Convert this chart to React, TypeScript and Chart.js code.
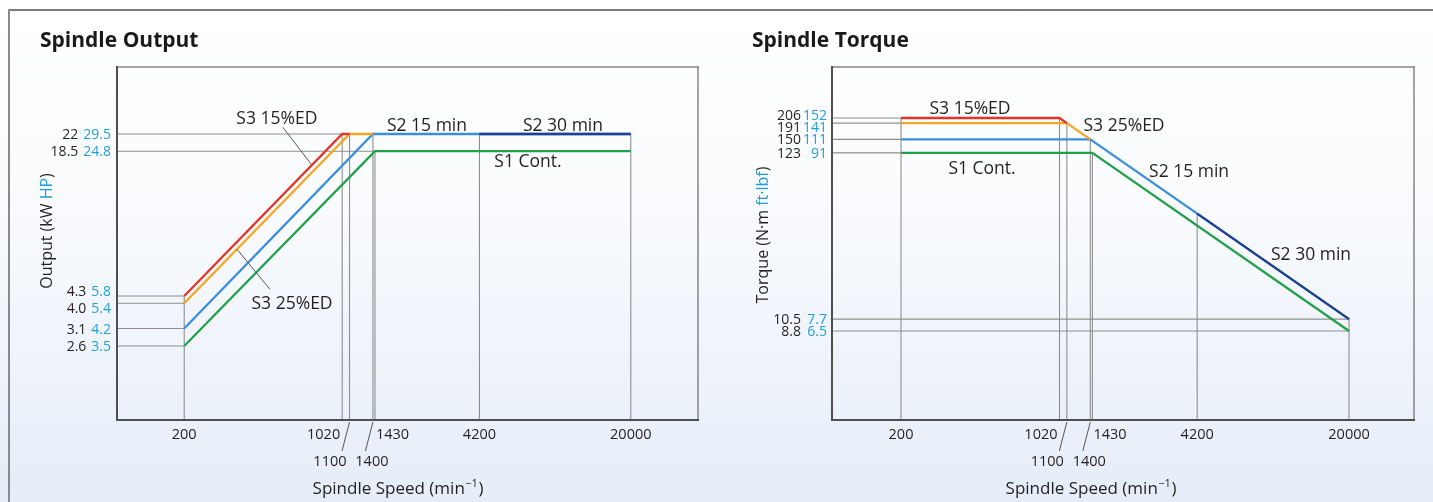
import React, { useEffect, useRef } from "react";
import { Chart, registerables } from "chart.js";

Chart.register(...registerables);

// ---------------- data ----------------
type Pt = [number, number];

// spindle speed tick values (min^-1)
const speedTicksRow1 = [200, 1020, 1430, 4200, 20000];
const speedTicksRow2 = [1100, 1400];

// Spindle Output (kW)
const outputS3_15: Pt[] = [[200, 4.3], [1020, 22], [1100, 22]];
const outputS3_25: Pt[] = [[200, 4.0], [1100, 22], [1400, 22]];
const outputS2_15: Pt[] = [[200, 3.1], [1400, 22], [20000, 22]];
const outputS2_30: Pt[] = [[4200, 22], [20000, 22]];
const outputS1: Pt[] = [[200, 2.6], [1430, 18.5], [20000, 18.5]];

const outputKwTicks = [22, 18.5, 4.3, 4.0, 3.1, 2.6];
const outputKwLabels = ["22", "18.5", "4.3", "4.0", "3.1", "2.6"];
const outputHpLabels = ["29.5", "24.8", "5.8", "5.4", "4.2", "3.5"];

// Spindle Torque (N·m)
const torqueS3_15: Pt[] = [[200, 206], [1020, 206], [1100, 191]];
const torqueS3_25: Pt[] = [[200, 191], [1100, 191], [1400, 150]];
const torqueS2_15: Pt[] = [[200, 150], [1400, 150], [20000, 10.5]];
const torqueS2_30: Pt[] = [[4200, 50], [20000, 10.5]];
const torqueS1: Pt[] = [[200, 123], [1430, 123], [20000, 8.8]];

const torqueNmTicks = [206, 191, 150, 123, 10.5, 8.8];
const torqueNmLabels = ["206", "191", "150", "123", "10.5", "8.8"];
const torqueLbfLabels = ["152", "141", "111", "91", "7.7", "6.5"];

// ---------------- styles ----------------
const TEXT = "#231f20";
const BLUE_TEXT = "#1c9fda";
const FONT = '"Open Sans", "Noto Sans", sans-serif';
const COLORS = {
  red: "#e5332a",
  orange: "#f5a623",
  blue: "#3a8edb",
  navy: "#213f8e",
  green: "#21a04a",
  guide: "#8e8e8e",
};

const xRow1Align: Record<number, [CanvasTextAlign, number]> = {
  1020: ["right", -2],
  1430: ["left", 1],
};
const xRow2Align: Record<number, [CanvasTextAlign, number]> = {
  1100: ["right", -3],
  1400: ["center", -1],
};

type Ann = { text: string; x: number; y: number; leader?: [Pt, Pt] };

type PanelCfg = {
  title: string;
  titleX: number;
  width: number;
  padding: { left: number; right: number; top: number; bottom: number };
  xRange: [number, number];
  yRange: [number, number];
  series: { points: Pt[]; color: string }[];
  yTicks: number[];
  yLabelsA: string[];
  yLabelsB: string[];
  yLabelMode: "pair" | "column";
  yMinSep: number;
  yTitle: [string, string][];
  yTitlePos: [number, number];
  xTitleCenter: number;
  annotations: Ann[];
};

function buildGuides(series: Pt[][], xTicks: number[], yTicks: number[], xMin: number, yMin: number) {
  const pts = series.flat();
  const out: { x: number; y: number }[][] = [];
  for (const x of xTicks) {
    const ys = pts.filter((p) => p[0] === x).map((p) => p[1]);
    if (ys.length) out.push([{ x, y: yMin }, { x, y: Math.max(...ys) }]);
  }
  for (const y of yTicks) {
    const xs = pts.filter((p) => p[1] === y).map((p) => p[0]);
    if (xs.length) out.push([{ x: xMin, y }, { x: Math.min(...xs), y }]);
  }
  return out;
}

function font(size: number, weight = 400) {
  return `${weight} ${size}px ${FONT}`;
}

function decorPlugin(cfg: PanelCfg) {
  return {
    id: "decor",
    afterDatasetsDraw(chart: any) {
      const { ctx, chartArea: a } = chart;
      const xs = chart.scales.x;
      const ys = chart.scales.y;
      const seg = (x1: number, y1: number, x2: number, y2: number) => {
        ctx.beginPath();
        ctx.moveTo(x1, y1);
        ctx.lineTo(x2, y2);
        ctx.stroke();
      };
      ctx.save();
      // plot frame
      ctx.lineCap = "square";
      ctx.strokeStyle = "#858585";
      ctx.lineWidth = 1.5;
      seg(a.left, a.top, a.right, a.top);
      seg(a.right, a.top, a.right, a.bottom);
      ctx.strokeStyle = "#4f4f4f";
      ctx.lineWidth = 2;
      seg(a.left, a.top, a.left, a.bottom);
      seg(a.left, a.bottom, a.right, a.bottom);

      ctx.fillStyle = TEXT;
      // x tick labels, row 1
      ctx.font = font(14.5);
      for (const v of speedTicksRow1) {
        const px = xs.getPixelForValue(v);
        const [al, off] = xRow1Align[v] || ["center", 0];
        ctx.textAlign = al;
        ctx.textBaseline = "alphabetic";
        ctx.fillText(String(v), px + off, a.bottom + 19);
      }
      // x tick labels, row 2 with leaders
      ctx.strokeStyle = "#555";
      ctx.lineWidth = 1;
      ctx.lineCap = "butt";
      for (const v of speedTicksRow2) {
        const px = xs.getPixelForValue(v);
        const [al, off] = xRow2Align[v] || ["center", 0];
        ctx.textAlign = al;
        ctx.fillText(String(v), px + off, a.bottom + 46);
        seg(px, a.bottom + 2, px - 7.5, a.bottom + 31);
      }

      // y tick labels
      ctx.font = font(14);
      const cap = 14 * 0.714;
      const items = cfg.yTicks.map((v, i) => ({ i, c: ys.getPixelForValue(v) }));
      items.sort((p, q) => p.c - q.c);
      for (let it = 0; it < 6; it++) {
        for (let k = 0; k < items.length - 1; k++) {
          const d = items[k + 1].c - items[k].c;
          if (d < cfg.yMinSep) {
            const push = (cfg.yMinSep - d) / 2;
            items[k].c -= push;
            items[k + 1].c += push;
          }
        }
      }
      ctx.textAlign = "right";
      for (const item of items) {
        const base = item.c + cap / 2;
        const b = cfg.yLabelsB[item.i];
        const aLbl = cfg.yLabelsA[item.i];
        const bRight = a.left - (cfg.yLabelMode === "pair" ? 6 : 5);
        ctx.fillStyle = BLUE_TEXT;
        ctx.fillText(b, bRight, base);
        const bw = ctx.measureText(b).width;
        const aRight = cfg.yLabelMode === "pair" ? bRight - bw - 5 : a.left - 31;
        ctx.fillStyle = TEXT;
        ctx.fillText(aLbl, aRight, base);
      }

      // annotations
      ctx.font = font(17.5);
      ctx.textAlign = "center";
      ctx.fillStyle = TEXT;
      ctx.strokeStyle = "#555";
      ctx.lineWidth = 1;
      for (const an of cfg.annotations) {
        const px = xs.getPixelForValue(an.x);
        const py = ys.getPixelForValue(an.y);
        ctx.fillText(an.text, px, py + (17.5 * 0.714) / 2);
        if (an.leader) {
          const [p1, p2] = an.leader;
          seg(
            xs.getPixelForValue(p1[0]),
            ys.getPixelForValue(p1[1]),
            xs.getPixelForValue(p2[0]),
            ys.getPixelForValue(p2[1])
          );
        }
      }

      // chart title
      ctx.font = font(21, 700);
      ctx.textAlign = "left";
      ctx.fillStyle = "#1a1a1a";
      ctx.fillText(cfg.title, cfg.titleX, 47);

      // x axis title with superscript
      const mainF = font(17);
      const supF = font(11);
      ctx.font = mainF;
      const t1 = "Spindle Speed (min";
      const w1 = ctx.measureText(t1).width;
      const t3 = ")";
      const w3 = ctx.measureText(t3).width;
      ctx.font = supF;
      const t2 = "\u22121";
      const w2 = ctx.measureText(t2).width + 1;
      const total = w1 + w2 + w3;
      const sx = cfg.xTitleCenter - total / 2;
      ctx.fillStyle = TEXT;
      ctx.textAlign = "left";
      ctx.font = mainF;
      ctx.fillText(t1, sx, 494);
      ctx.font = supF;
      ctx.fillText(t2, sx + w1 + 0.5, 487);
      ctx.font = mainF;
      ctx.fillText(t3, sx + w1 + w2, 494);

      // y axis title (rotated, mixed colours)
      ctx.translate(cfg.yTitlePos[0], cfg.yTitlePos[1]);
      ctx.rotate(-Math.PI / 2);
      ctx.font = font(16);
      const widths = cfg.yTitle.map(([t]) => ctx.measureText(t).width);
      const tw = widths.reduce((s, w) => s + w, 0);
      let cx = -tw / 2;
      cfg.yTitle.forEach(([t, col], i) => {
        ctx.fillStyle = col;
        ctx.fillText(t, cx, 0);
        cx += widths[i];
      });
      ctx.restore();
    },
  };
}

function buildConfig(cfg: PanelCfg): any {
  const seriesPts = cfg.series.map((s) => s.points);
  const guides = buildGuides(
    seriesPts,
    [...speedTicksRow1, ...speedTicksRow2],
    cfg.yTicks,
    cfg.xRange[0],
    cfg.yRange[0]
  );
  const datasets: any[] = [
    ...cfg.series.map((s) => ({
      data: s.points.map(([x, y]) => ({ x, y })),
      borderColor: s.color,
      borderWidth: 2.3,
      pointRadius: 0,
      tension: 0,
      fill: false,
    })),
    ...guides.map((g) => ({
      data: g,
      borderColor: COLORS.guide,
      borderWidth: 1.1,
      pointRadius: 0,
      tension: 0,
      fill: false,
    })),
  ];
  return {
    type: "line",
    data: { datasets },
    options: {
      responsive: false,
      animation: false,
      devicePixelRatio: 1,
      events: [],
      layout: { padding: cfg.padding },
      scales: {
        x: { type: "logarithmic", min: cfg.xRange[0], max: cfg.xRange[1], display: false },
        y: { type: "logarithmic", min: cfg.yRange[0], max: cfg.yRange[1], display: false },
      },
      plugins: {
        legend: { display: false },
        tooltip: { enabled: false },
        title: { display: false },
      },
    },
    plugins: [decorPlugin(cfg)],
  };
}

const outputPanel: PanelCfg = {
  title: "Spindle Output",
  titleX: 40,
  width: 716,
  padding: { left: 117, right: 18, top: 67, bottom: 82 },
  xRange: [100, 40000],
  yRange: [1.234, 43.2],
  series: [
    { points: outputS2_30, color: COLORS.navy },
    { points: outputS3_15, color: COLORS.red },
    { points: outputS3_25, color: COLORS.orange },
    { points: outputS2_15, color: COLORS.blue },
    { points: outputS1, color: COLORS.green },
  ],
  yTicks: outputKwTicks,
  yLabelsA: outputKwLabels,
  yLabelsB: outputHpLabels,
  yLabelMode: "pair",
  yMinSep: 17,
  yTitle: [
    ["Output (kW ", TEXT],
    ["HP", BLUE_TEXT],
    [")", TEXT],
  ],
  yTitlePos: [52, 231],
  xTitleCenter: 398,
  annotations: [
    { text: "S3 15%ED", x: 520, y: 26.0, leader: [[554, 23.5], [747, 16.06]] },
    { text: "S3 25%ED", x: 608, y: 4.03, leader: [[344.6, 6.89], [484.5, 4.6]] },
    { text: "S2 15 min", x: 2445, y: 24.1 },
    { text: "S2 30 min", x: 9937, y: 24.1 },
    { text: "S1 Cont.", x: 6928, y: 16.85 },
  ],
};

const torquePanel: PanelCfg = {
  title: "Spindle Torque",
  titleX: 36,
  width: 717,
  padding: { left: 116, right: 19, top: 67, bottom: 82 },
  xRange: [98.4, 39000],
  yRange: [2.36, 438],
  series: [
    { points: torqueS2_30, color: COLORS.navy },
    { points: torqueS3_15, color: COLORS.red },
    { points: torqueS3_25, color: COLORS.orange },
    { points: torqueS2_15, color: COLORS.blue },
    { points: torqueS1, color: COLORS.green },
  ],
  yTicks: torqueNmTicks,
  yLabelsA: torqueNmLabels,
  yLabelsB: torqueLbfLabels,
  yLabelMode: "column",
  yMinSep: 12,
  yTitle: [
    ["Torque (N\u00b7m ", TEXT],
    ["ft\u00b7lbf", BLUE_TEXT],
    [")", TEXT],
  ],
  yTitlePos: [52, 235],
  xTitleCenter: 375,
  annotations: [
    { text: "S3 15%ED", x: 406.5, y: 238.8 },
    { text: "S3 25%ED", x: 1980, y: 185.7 },
    { text: "S1 Cont.", x: 460, y: 99 },
    { text: "S2 15 min", x: 3863, y: 94 },
    { text: "S2 30 min", x: 13530, y: 27.5 },
  ],
};

function Panel({ cfg, left }: { cfg: PanelCfg; left: number }) {
  const ref = useRef<HTMLCanvasElement>(null);
  useEffect(() => {
    if (!ref.current) return;
    const chart = new Chart(ref.current, buildConfig(cfg));
    return () => chart.destroy();
  }, [cfg]);
  return (
    <canvas
      ref={ref}
      width={cfg.width}
      height={502}
      style={{ position: "absolute", left, top: 0, width: cfg.width, height: 502, display: "block" }}
    />
  );
}

export default function App() {
  return (
    <div
      style={{
        position: "fixed",
        left: 0,
        top: 0,
        width: 1433,
        height: 502,
        overflow: "hidden",
        background: "linear-gradient(180deg, #ffffff 0%, #fbfcfe 35%, #e5edf8 100%)",
      }}
    >
      <div style={{ position: "absolute", left: 8, top: 9, width: 1425, height: 2, background: "#7d7d7d" }} />
      <div style={{ position: "absolute", left: 8, top: 9, width: 2, height: 493, background: "#8a8a8a" }} />
      <Panel cfg={outputPanel} left={0} />
      <Panel cfg={torquePanel} left={716} />
    </div>
  );
}
